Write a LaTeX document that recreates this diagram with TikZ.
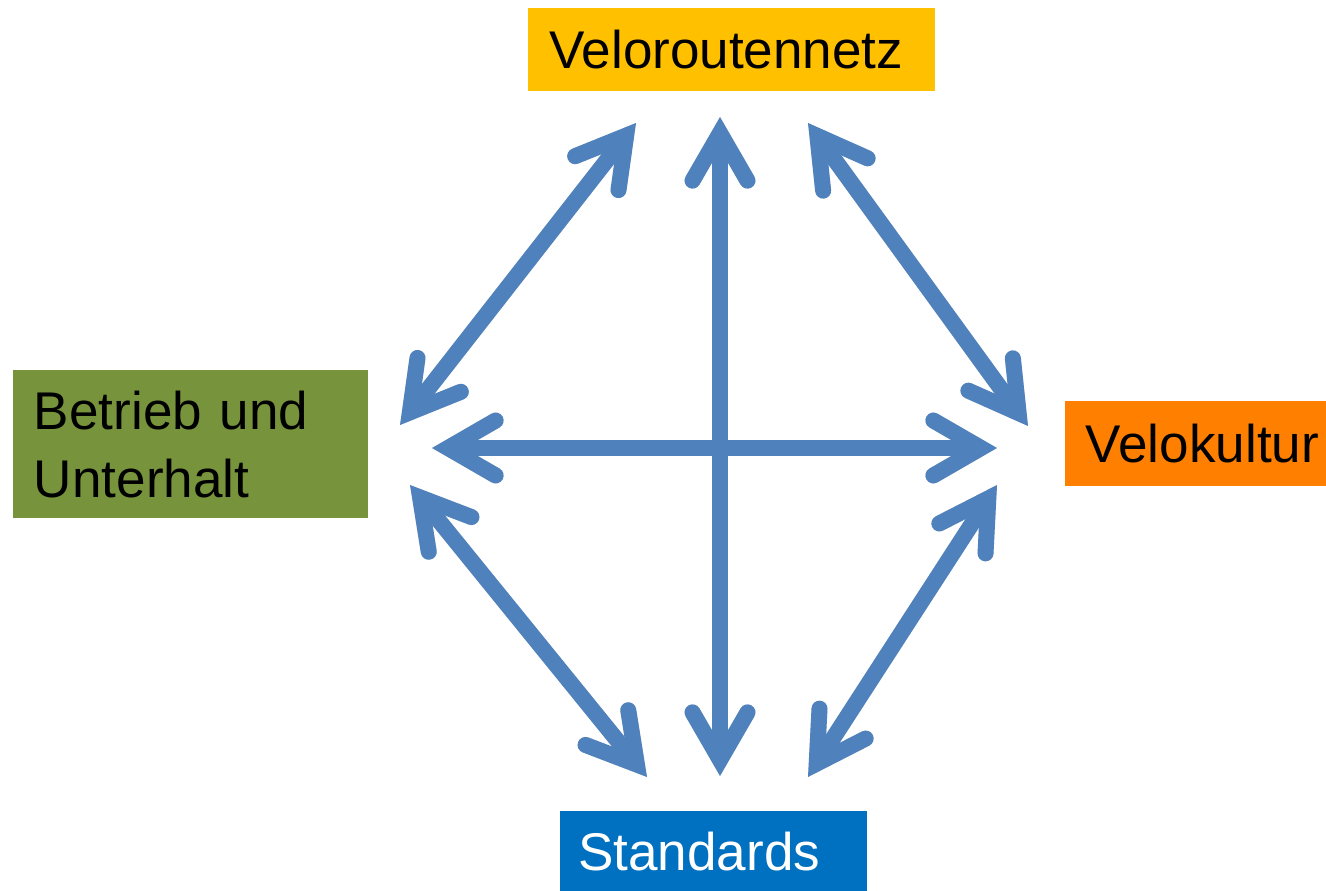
\documentclass[tikz,border=0pt]{standalone}
\usepackage{fontspec}
\setmainfont{Liberation Sans}
\usetikzlibrary{calc}
\definecolor{arrowblue}{HTML}{4F81BD}
\definecolor{cgold}{HTML}{FFC000}
\definecolor{cgreen}{HTML}{77933C}
\definecolor{corange}{HTML}{FF8000}
\definecolor{cblue}{HTML}{0070C0}
\tikzset{
  shaft/.style={draw=arrowblue, line width=12pt, line cap=butt},
  barb/.style={draw=arrowblue, line width=12pt, line cap=round, line join=miter},
  shadowed/.style={draw=black, opacity=0.12},
  box/.style={anchor=north west, inner ysep=0pt, align=left, font=\fontsize{39.8}{51}\selectfont},
}
\newcommand\dblarr[3]{%
  \coordinate (#3a) at ($(#1)!12pt!(#2)$);
  \coordinate (#3b) at ($(#2)!12pt!(#1)$);
  \begin{scope}[shift={(2,3)}]
    \draw[shaft, shadowed] (#3a) -- (#3b);
    \draw[barb, shadowed] ($(#3a)!41.25pt!30:(#2)$) -- (#3a) -- ($(#3a)!41.25pt!-30:(#2)$);
    \draw[barb, shadowed] ($(#3b)!41.25pt!30:(#1)$) -- (#3b) -- ($(#3b)!41.25pt!-30:(#1)$);
  \end{scope}
  \draw[shaft] (#3a) -- (#3b);
  \draw[barb] ($(#3a)!41.25pt!30:(#2)$) -- (#3a) -- ($(#3a)!41.25pt!-30:(#2)$);
  \draw[barb] ($(#3b)!41.25pt!30:(#1)$) -- (#3b) -- ($(#3b)!41.25pt!-30:(#1)$);
}
\begin{document}
\begin{tikzpicture}[x=0.75pt, y=-0.75pt]
\clip (0,0) rectangle (1326,891);
\fill[white] (0,0) rectangle (1326,891);
% boxes
\node[box, fill=cgold, inner xsep=15.75pt, text width=273.75pt, minimum height=62.25pt] (vr) at (528,8) {Veloroutennetz};
\node[box, fill=cgreen, inner xsep=15.5pt, text width=235.25pt, minimum height=111pt] (bu) at (13,370) {Betrieb und\\Unterhalt};
\node[box, fill=corange, inner xsep=15.5pt, text width=194pt, minimum height=63.75pt] (vk) at (1065,401) {Velokultur};
\node[box, fill=cblue, text=white, inner xsep=13.5pt, text width=203.25pt, minimum height=60pt] (st) at (560,811) {Standards};
% arrow tips
\coordinate (t1) at (720,117);
\coordinate (b1) at (720,776);
\coordinate (l2) at (432,448);
\coordinate (r2) at (997,448);
\coordinate (ult) at (636,123);
\coordinate (ulb) at (400,425);
\coordinate (urt) at (808,123);
\coordinate (urb) at (1028,426);
\coordinate (llt) at (410,485);
\coordinate (llb) at (647,777);
\coordinate (lrt) at (997,485);
\coordinate (lrb) at (808,777);
% arrows
\dblarr{l2}{r2}{h}
\dblarr{t1}{b1}{v}
\dblarr{ult}{ulb}{ul}
\dblarr{urt}{urb}{ur}
\dblarr{llt}{llb}{ll}
\dblarr{lrt}{lrb}{lr}
\end{tikzpicture}
\end{document}
